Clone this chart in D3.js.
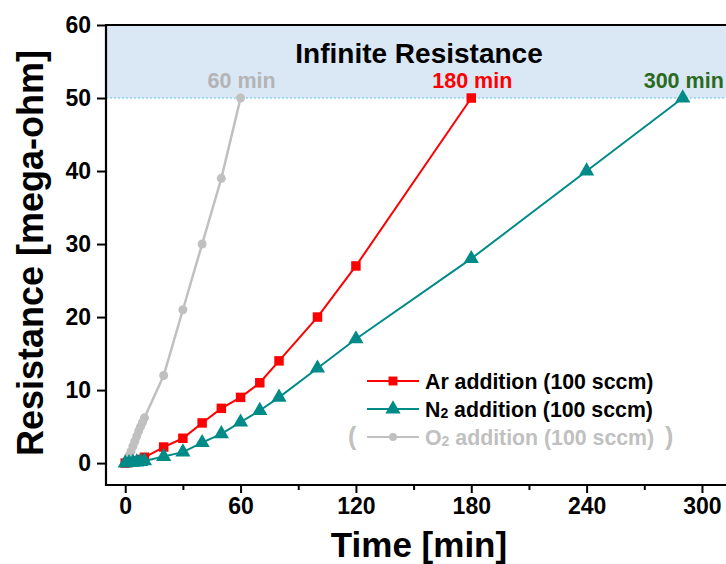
<!DOCTYPE html>
<html>
<head>
<meta charset="utf-8">
<script src="https://cdn.jsdelivr.net/npm/d3@7"></script>
<style>
  html, body { margin: 0; padding: 0; background: #fff; }
  svg { display: block; font-family: Arial, "Liberation Sans", sans-serif; }
</style>
</head>
<body>
<svg id="chart" width="726" height="564"></svg>
<script>
// ---- data ----
const timeAr = [0, 2, 4, 6, 8, 10, 20, 30, 40, 50, 60, 70, 80, 100, 120, 180];
const resAr  = [0, 0.1, 0.2, 0.3, 0.5, 0.8, 2.2, 3.4, 5.5, 7.5, 9, 11, 14, 20, 27, 50];

const timeN2 = [0, 2, 4, 6, 8, 10, 20, 30, 40, 50, 60, 70, 80, 100, 120, 180, 240, 290];
const resN2  = [0, 0.05, 0.1, 0.15, 0.2, 0.3, 0.9, 1.5, 2.8, 4, 5.6, 7.2, 9, 13, 17, 28, 40, 50];

const timeO2 = [0, 1, 2, 3, 4, 5, 6, 7, 8, 9, 10, 20, 30, 40, 50, 60];
const resO2  = [0, 0.4, 1, 1.6, 2.3, 3, 3.7, 4.4, 5, 5.6, 6.2, 12, 21, 30, 39, 50];

const xTicks = [0, 60, 120, 180, 240, 300];
const xMinorTicks = [30, 90, 150, 210, 270];
const yTicks = [0, 10, 20, 30, 40, 50, 60];

const seriesNames = ["Ar addition (100 sccm)", "N2 addition (100 sccm)", "O2 addition (100 sccm)"];
const endLabels = ["180 min", "300 min", "60 min"];
const bandLabel = "Infinite Resistance";
const threshold = 50;

// ---- setup ----
const svg = d3.select("#chart");
const x = d3.scaleLinear().domain([-10, 312.5]).range([106, 726]);
const y = d3.scaleLinear().domain([-3, 60]).range([485, 25]);

const font = 'Arial, "Liberation Sans", sans-serif';

// band
svg.append("rect")
  .attr("x", x(-10)).attr("y", y(60))
  .attr("width", x(312.5) - x(-10)).attr("height", y(threshold) - y(60))
  .attr("fill", "#dae7f4");
svg.append("line")
  .attr("x1", x(-10)).attr("x2", x(312.5))
  .attr("y1", y(threshold)).attr("y2", y(threshold))
  .attr("stroke", "#5cc3ef").attr("stroke-width", 1)
  .attr("stroke-dasharray", "2,2");

svg.append("text")
  .attr("x", 419).attr("y", 63)
  .attr("text-anchor", "middle")
  .attr("font-size", 28).attr("font-weight", "bold").attr("fill", "#000")
  .text(bandLabel);

// axes
const xAxis = d3.axisBottom(x).tickValues(xTicks).tickSize(8).tickPadding(5).tickFormat(d3.format("d"));
const gx = svg.append("g").attr("transform", `translate(0,${y(-3)})`).call(xAxis);
gx.select(".domain").remove();
gx.selectAll(".tick line").attr("stroke", "#000").attr("stroke-width", 2);
gx.selectAll(".tick text").attr("font-size", 23).attr("font-weight", "bold").attr("fill", "#000").attr("font-family", font);

const xMinor = d3.axisBottom(x).tickValues(xMinorTicks).tickSize(5).tickFormat("");
const gxm = svg.append("g").attr("transform", `translate(0,${y(-3)})`).call(xMinor);
gxm.select(".domain").remove();
gxm.selectAll(".tick line").attr("stroke", "#000").attr("stroke-width", 2);

const yAxis = d3.axisLeft(y).tickValues(yTicks).tickSize(9).tickPadding(6).tickFormat(d3.format("d"));
const gy = svg.append("g").attr("transform", `translate(${x(-10)},0)`).call(yAxis);
gy.select(".domain").remove();
gy.selectAll(".tick line").attr("stroke", "#000").attr("stroke-width", 2);
gy.selectAll(".tick text").attr("font-size", 23).attr("font-weight", "bold").attr("fill", "#000").attr("font-family", font);

// frame lines (left, bottom, top)
svg.append("line").attr("x1", x(-10)).attr("x2", x(-10)).attr("y1", y(60) - 1).attr("y2", y(-3) + 1)
  .attr("stroke", "#000").attr("stroke-width", 2.2);
svg.append("line").attr("x1", x(-10) - 1).attr("x2", x(312.5)).attr("y1", y(-3)).attr("y2", y(-3))
  .attr("stroke", "#000").attr("stroke-width", 2.2);
svg.append("line").attr("x1", x(-10) - 1).attr("x2", x(312.5)).attr("y1", y(60)).attr("y2", y(60))
  .attr("stroke", "#000").attr("stroke-width", 2.2);

// axis titles
svg.append("text")
  .attr("x", 419).attr("y", 557)
  .attr("text-anchor", "middle")
  .attr("font-size", 35).attr("font-weight", "bold").attr("fill", "#000")
  .text("Time [min]");
svg.append("text")
  .attr("transform", `translate(43,${(48 + 458) / 2}) rotate(-90)`)
  .attr("text-anchor", "middle")
  .attr("font-size", 36).attr("font-weight", "bold").attr("fill", "#000")
  .text("Resistance [mega-ohm]");

// series
const line = d3.line().x(d => x(d[0])).y(d => y(d[1]));
const zip = (t, r) => t.map((v, i) => [v, r[i]]);

const series = [
  { key: "O2", data: zip(timeO2, resO2), color: "#c0c0c0", symbol: d3.symbolCircle, size: 64, width: 2.5 },
  { key: "Ar", data: zip(timeAr, resAr), color: "#ff0000", symbol: d3.symbolSquare, size: 90, width: 2 },
  { key: "N2", data: zip(timeN2, resN2), color: "#008b88", symbol: d3.symbolTriangle, size: 100, width: 2 }
];

series.forEach(s => {
  const g = svg.append("g");
  g.append("path").datum(s.data).attr("d", line)
    .attr("fill", "none").attr("stroke", s.color).attr("stroke-width", s.width);
  g.selectAll("path.m").data(s.data).join("path").attr("class", "m")
    .attr("transform", d => `translate(${x(d[0])},${y(d[1])})`)
    .attr("d", d3.symbol().type(s.symbol).size(s.size))
    .attr("fill", s.color);
});

// end labels
const endInfo = [
  { t: timeAr[timeAr.length - 1], text: endLabels[0], color: "#ff0000" },
  { t: timeN2[timeN2.length - 1], text: endLabels[1], color: "#2b6a1d" },
  { t: timeO2[timeO2.length - 1], text: endLabels[2], color: "#b4b4b4" }
];
endInfo.forEach(e => {
  svg.append("text")
    .attr("x", x(e.t) + 1).attr("y", y(threshold) - 10)
    .attr("text-anchor", "middle")
    .attr("font-size", 21.5).attr("font-weight", "bold").attr("fill", e.color)
    .text(e.text);
});

// legend
const legendRows = [
  { name: seriesNames[0], color: "#ff0000", symbol: d3.symbolSquare, size: 80, cy: 381 },
  { name: seriesNames[1], color: "#008b88", symbol: d3.symbolTriangle, size: 100, cy: 409 },
  { name: seriesNames[2], color: "#c0c0c0", symbol: d3.symbolCircle, size: 50, cy: 437 }
];
legendRows.forEach(r => {
  svg.append("line").attr("x1", 367).attr("x2", 419).attr("y1", r.cy).attr("y2", r.cy)
    .attr("stroke", r.color).attr("stroke-width", 2);
  svg.append("path").attr("transform", `translate(393,${r.cy})`)
    .attr("d", d3.symbol().type(r.symbol).size(r.size)).attr("fill", r.color);
  const t = svg.append("text").attr("x", 425).attr("y", r.cy + 7.5)
    .attr("font-size", 21.3).attr("font-weight", "bold")
    .attr("fill", r.color === "#c0c0c0" ? "#c0c0c0" : "#000");
  const m = r.name.match(/^([A-Za-z]+)2(.*)$/);
  if (m) {
    t.append("tspan").text(m[1]);
    t.append("tspan").attr("font-size", 14).attr("dy", 1).text("2");
    t.append("tspan").attr("dy", -1).text(m[2]);
  } else {
    t.text(r.name);
  }
});
svg.append("text").attr("x", 348).attr("y", 445).attr("font-size", 25).attr("font-weight", "bold")
  .attr("fill", "#c0c0c0").text("(");
svg.append("text").attr("x", 665).attr("y", 445).attr("font-size", 25).attr("font-weight", "bold")
  .attr("fill", "#c0c0c0").text(")");
</script>
</body>
</html>
